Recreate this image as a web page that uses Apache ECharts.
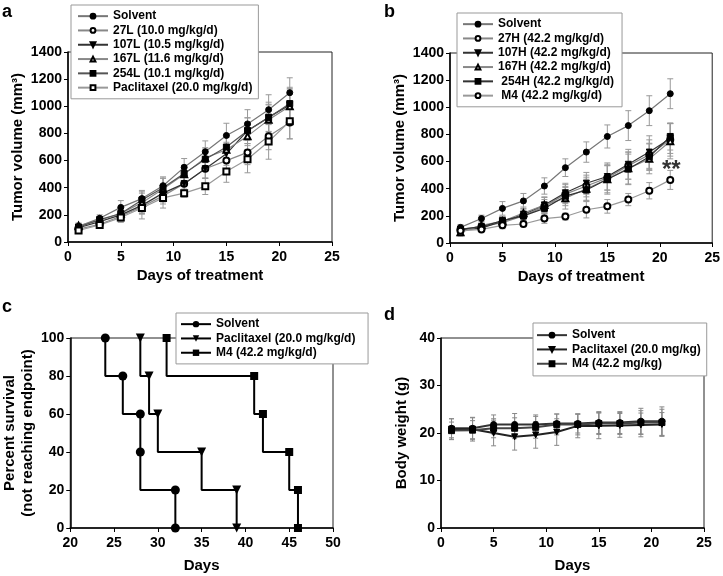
<!DOCTYPE html>
<html>
<head>
<meta charset="utf-8">
<script src="https://cdn.jsdelivr.net/npm/echarts@6/dist/echarts.min.js"></script>
<style>
  html, body { margin: 0; padding: 0; background: #fff; }
  #main { width: 723px; height: 576px; }
</style>
</head>
<body>
<div id="main"></div>
<script>
// ---- data ----
var days = [1, 3, 5, 7, 9, 11, 13, 15, 17, 19, 21];

// panel a: tumor volume, low doses (mm3)
var aSolvent    = [115, 175, 255, 320, 415, 550, 665, 785, 870, 975, 1100];
var a27L        = [95, 130, 190, 260, 340, 430, 540, 600, 660, 780, 880];
var a107L       = [105, 150, 200, 270, 360, 430, 540, 650, 820, 920, 1010];
var a167L       = [120, 160, 210, 290, 390, 500, 620, 680, 780, 900, 1000];
var a254L       = [110, 165, 210, 310, 400, 505, 610, 700, 820, 915, 1020];
var aPacl       = [85, 125, 180, 250, 325, 360, 410, 520, 610, 740, 890];
var aSolventErr = [20, 25, 50, 60, 65, 65, 80, 90, 105, 110, 110];
var a27LErr     = [15, 20, 40, 55, 60, 60, 70, 80, 90, 100, 120];
var a107LErr    = [15, 20, 35, 60, 65, 55, 70, 85, 95, 110, 130];
var a167LErr    = [20, 25, 40, 70, 80, 65, 75, 90, 100, 110, 120];
var a254LErr    = [15, 20, 40, 60, 70, 60, 75, 85, 95, 100, 110];
var aPaclErr    = [15, 20, 35, 80, 75, 30, 60, 80, 100, 130, 130];

// panel b: tumor volume, high doses (mm3)
var bSolvent    = [115, 180, 255, 310, 420, 555, 670, 785, 865, 975, 1100];
var b27H        = [100, 120, 150, 200, 270, 360, 420, 480, 570, 650, 760];
var b107H       = [95, 110, 160, 210, 280, 370, 440, 490, 580, 670, 770];
var b167H       = [80, 130, 160, 220, 280, 330, 400, 470, 550, 620, 750];
var b254H       = [100, 120, 165, 200, 255, 345, 390, 470, 545, 635, 785];
var bM4         = [90, 100, 130, 140, 180, 195, 245, 270, 320, 385, 465];
var bSolventErr = [20, 25, 50, 55, 60, 65, 75, 85, 110, 110, 110];
var b27HErr     = [20, 20, 30, 35, 50, 70, 80, 90, 100, 110, 120];
var b107HErr    = [20, 25, 35, 40, 60, 70, 80, 100, 110, 120, 110];
var b167HErr    = [30, 25, 30, 45, 55, 80, 85, 110, 120, 110, 130];
var b254HErr    = [20, 20, 30, 40, 50, 70, 80, 100, 110, 100, 100];
var bM4Err      = [15, 15, 25, 20, 35, 25, 60, 50, 45, 60, 70];

// panel c: survival (event day, percent before the drop)
var cSolvent = [[24, 100], [26, 80], [28, 60], [28, 40], [32, 20], [32, 0]];
var cPacl    = [[28, 100], [29, 80], [30, 60], [35, 40], [39, 20], [39, 0]];
var cM4      = [[31, 100], [41, 80], [42, 60], [45, 40], [46, 20], [46, 0]];

// panel d: body weight (g)
var dSolvent    = [21.0, 21.0, 21.8, 21.8, 21.8, 22.0, 22.0, 22.2, 22.2, 22.5, 22.5];
var dPacl       = [20.8, 20.8, 20.0, 19.2, 19.6, 20.2, 21.5, 21.5, 21.6, 21.7, 21.8];
var dM4         = [20.5, 20.6, 21.0, 21.0, 21.2, 21.8, 21.8, 22.0, 22.0, 22.2, 22.2];
var dSolventErr = [2.0, 2.2, 2.0, 2.3, 2.0, 2.0, 2.0, 2.3, 2.3, 2.7, 3.0];
var dPaclErr    = [2.2, 2.5, 2.7, 2.8, 2.8, 2.8, 2.5, 2.7, 2.5, 2.5, 2.5];
var dM4Err      = [1.8, 2.0, 2.0, 2.2, 2.3, 2.2, 2.2, 2.3, 2.3, 2.5, 2.8];

var FONT = 'Liberation Sans, Arial, sans-serif';
var bold = function (size) { return { fontFamily: FONT, fontWeight: 'bold', fontSize: size, color: '#000' }; };
var plain = function (v) { return String(v); };

function xAx(gi, min, max, name, gap) {
  return {
    type: 'value', gridIndex: gi, min: min, max: max, interval: 5,
    name: name, nameLocation: 'middle', nameGap: gap, nameTextStyle: bold(15),
    axisLine: { show: true, onZero: false, lineStyle: { color: '#000', width: 1.5 } },
    axisTick: { show: true, length: 4, lineStyle: { color: '#000' } },
    axisLabel: Object.assign({ margin: 8, formatter: plain }, bold(14)),
    splitLine: { show: false }
  };
}
function yAx(gi, max, interval, name, gap) {
  return {
    type: 'value', gridIndex: gi, min: 0, max: max, interval: interval,
    name: name, nameLocation: 'middle', nameGap: gap, nameTextStyle: Object.assign({ lineHeight: 18 }, bold(15)),
    axisLine: { show: true, onZero: false, lineStyle: { color: '#000', width: 1.5 } },
    axisTick: { show: true, length: 4, lineStyle: { color: '#000' } },
    axisLabel: Object.assign({ margin: 6, formatter: plain }, bold(14)),
    splitLine: { show: false }
  };
}

function errorBars(vals, errs, gi, color, cap) {
  var data = days.map(function (d, i) { return [d, vals[i] - errs[i], vals[i] + errs[i]]; });
  return {
    type: 'custom', coordinateSystem: 'cartesian2d', xAxisIndex: gi, yAxisIndex: gi,
    silent: true, z: 1, data: data, encode: { x: 0, y: [1, 2] },
    renderItem: function (params, api) {
      var lo = api.coord([api.value(0), api.value(1)]);
      var hi = api.coord([api.value(0), api.value(2)]);
      var st = { stroke: color, lineWidth: 1 };
      return { type: 'group', children: [
        { type: 'line', shape: { x1: hi[0], y1: hi[1], x2: lo[0], y2: lo[1] }, style: st },
        { type: 'line', shape: { x1: hi[0] - cap, y1: hi[1], x2: hi[0] + cap, y2: hi[1] }, style: st },
        { type: 'line', shape: { x1: lo[0] - cap, y1: lo[1], x2: lo[0] + cap, y2: lo[1] }, style: st }
      ] };
    }
  };
}

function line(name, vals, gi, sym, lineColor, extra) {
  var s = {
    name: name, type: 'line', xAxisIndex: gi, yAxisIndex: gi, z: 3,
    data: days.map(function (d, i) { return [d, vals[i]]; }),
    symbol: sym, symbolSize: 6, showAllSymbol: true,
    itemStyle: { color: '#000', borderColor: '#000', borderWidth: 1 },
    lineStyle: { color: lineColor, width: 1.2 },
    emphasis: { disabled: true }
  };
  return Object.assign(s, extra || {});
}

function survival(name, pts, sym, extra) {
  return Object.assign({
    name: name, type: 'line', xAxisIndex: 2, yAxisIndex: 2, z: 3,
    data: pts, step: 'start', symbol: sym, symbolSize: 9, showAllSymbol: true,
    itemStyle: { color: '#000' }, lineStyle: { color: '#000', width: 2 },
    emphasis: { disabled: true }
  }, extra || {});
}

function legend(left, top, names, pad, ih) {
  return {
    left: left, top: top, orient: 'vertical', itemGap: 2, itemWidth: 30, itemHeight: ih || 6,
    padding: pad, backgroundColor: '#fff', borderColor: '#999', borderWidth: 1,
    textStyle: Object.assign({ lineHeight: 12.3 }, bold(12)), selectedMode: false, data: names
  };
}

var down = { symbolRotate: 180 };

var option = {
  animation: false,
  backgroundColor: '#fff',
  graphic: [
    { type: 'text', left: 2, top: 3, style: { text: 'a', font: 'bold 18px ' + FONT, fill: '#000' } },
    { type: 'text', left: 384, top: 3, style: { text: 'b', font: 'bold 18px ' + FONT, fill: '#000' } },
    { type: 'text', left: 2, top: 298, style: { text: 'c', font: 'bold 18px ' + FONT, fill: '#000' } },
    { type: 'text', left: 384, top: 306, style: { text: 'd', font: 'bold 18px ' + FONT, fill: '#000' } }
  ],
  grid: [
    { left: 68, top: 52, width: 264, height: 190, show: true, borderColor: '#222', borderWidth: 1 },
    { left: 450, top: 53, width: 264, height: 190, show: true, borderColor: '#222', borderWidth: 1 },
    { left: 70, top: 338, width: 263, height: 190, show: true, borderColor: '#222', borderWidth: 1 },
    { left: 441, top: 338, width: 263, height: 190, show: true, borderColor: '#222', borderWidth: 1 }
  ],
  xAxis: [
    xAx(0, 0, 25, 'Days of treatment', 26),
    xAx(1, 0, 25, 'Days of treatment', 26),
    xAx(2, 20, 50, 'Days', 30),
    xAx(3, 0, 25, 'Days', 30)
  ],
  yAxis: [
    yAx(0, 1400, 200, 'Tumor volume (mm³)', 40),
    yAx(1, 1400, 200, 'Tumor volume (mm³)', 40),
    yAx(2, 100, 20, 'Percent survival\n(not reaching endpoint)', 30),
    yAx(3, 40, 10, 'Body weight (g)', 30)
  ],
  legend: [
    legend(71, 5, ['Solvent', '27L (10.0 mg/kg/d)', '107L (10.5 mg/kg/d)', '167L (11.6 mg/kg/d)',
      '254L (10.1 mg/kg/d)', 'Paclitaxel (20.0 mg/kg/d)'], [5, 6, 5, 6]),
    legend(457, 13, ['Solvent ', '27H (42.2 mg/kg/d)', '107H (42.2 mg/kg/d)', '167H (42.2 mg/kg/d)',
      ' 254H (42.2 mg/kg/d)', ' M4 (42.2 mg/kg/d)'], [5, 8, 5, 5]),
    legend(176, 313, ['Solvent  ', 'Paclitaxel (20.0 mg/kg/d)  ', 'M4 (42.2 mg/kg/d)  '], [5, 6, 5, 4], 8),
    legend(533, 323, ['Solvent   ', 'Paclitaxel (20.0 mg/kg)', 'M4 (42.2 mg/kg)'], [6, 6, 6, 3])
  ],
  series: [
    errorBars(aSolvent, aSolventErr, 0, '#999', 3),
    errorBars(a27L, a27LErr, 0, '#999', 3),
    errorBars(a107L, a107LErr, 0, '#999', 3),
    errorBars(a167L, a167LErr, 0, '#999', 3),
    errorBars(a254L, a254LErr, 0, '#999', 3),
    errorBars(aPacl, aPaclErr, 0, '#999', 3),
    line('Solvent', aSolvent, 0, 'circle', '#777'),
    line('27L (10.0 mg/kg/d)', a27L, 0, 'emptyCircle', '#888'),
    line('107L (10.5 mg/kg/d)', a107L, 0, 'triangle', '#333', down),
    line('167L (11.6 mg/kg/d)', a167L, 0, 'emptyTriangle', '#888'),
    line('254L (10.1 mg/kg/d)', a254L, 0, 'rect', '#555'),
    line('Paclitaxel (20.0 mg/kg/d)', aPacl, 0, 'emptyRect', '#999'),

    errorBars(bSolvent, bSolventErr, 1, '#999', 3),
    errorBars(b27H, b27HErr, 1, '#999', 3),
    errorBars(b107H, b107HErr, 1, '#999', 3),
    errorBars(b167H, b167HErr, 1, '#999', 3),
    errorBars(b254H, b254HErr, 1, '#999', 3),
    errorBars(bM4, bM4Err, 1, '#999', 3),
    line('Solvent ', bSolvent, 1, 'circle', '#777'),
    line('27H (42.2 mg/kg/d)', b27H, 1, 'emptyCircle', '#888'),
    line('107H (42.2 mg/kg/d)', b107H, 1, 'triangle', '#333', down),
    line('167H (42.2 mg/kg/d)', b167H, 1, 'emptyTriangle', '#888'),
    line(' 254H (42.2 mg/kg/d)', b254H, 1, 'rect', '#333'),
    line(' M4 (42.2 mg/kg/d)', bM4, 1, 'emptyCircle', '#999', {
      markPoint: {
        symbol: 'circle', symbolSize: 1, itemStyle: { color: 'transparent' },
        label: { show: true, position: 'inside', formatter: '**', fontFamily: FONT, fontWeight: 'bold', fontSize: 24, color: '#333' },
        data: [{ coord: [21.1, 535] }]
      }
    }),

    survival('Solvent  ', cSolvent, 'circle'),
    survival('Paclitaxel (20.0 mg/kg/d)  ', cPacl, 'triangle', down),
    survival('M4 (42.2 mg/kg/d)  ', cM4, 'rect', { symbolSize: 8 }),

    errorBars(dSolvent, dSolventErr, 3, '#888', 2.5),
    errorBars(dPacl, dPaclErr, 3, '#888', 2.5),
    errorBars(dM4, dM4Err, 3, '#888', 2.5),
    line('Solvent   ', dSolvent, 3, 'circle', '#333', { lineStyle: { color: '#333', width: 2 } }),
    line('Paclitaxel (20.0 mg/kg)', dPacl, 3, 'triangle', '#222', { symbolRotate: 180, lineStyle: { color: '#222', width: 2 } }),
    line('M4 (42.2 mg/kg)', dM4, 3, 'rect', '#444', { lineStyle: { color: '#444', width: 2 } })
  ]
};

var chart = echarts.init(document.getElementById('main'));
chart.setOption(option);
</script>
</body>
</html>
